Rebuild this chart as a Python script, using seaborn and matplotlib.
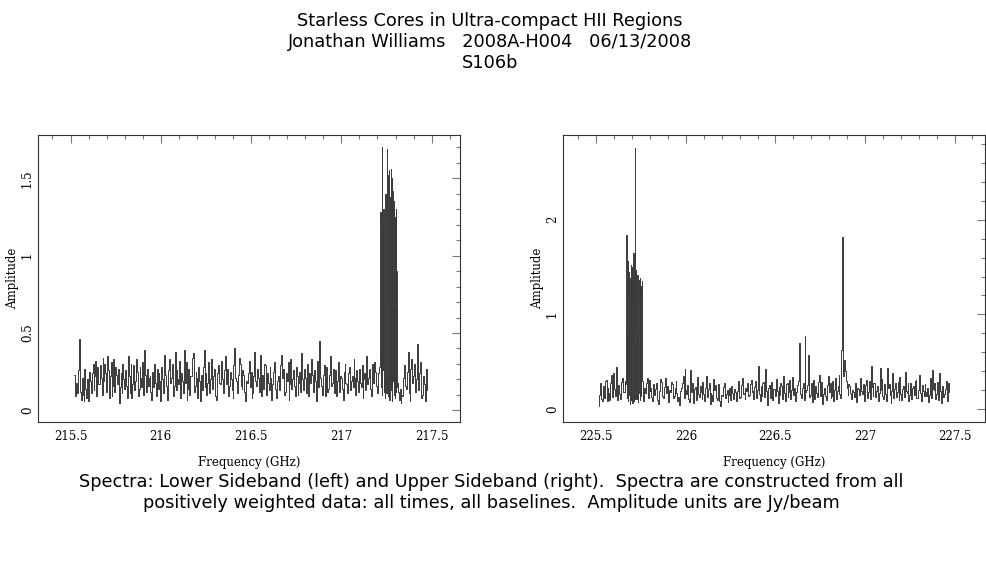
import numpy as np
import pandas as pd
import matplotlib
matplotlib.use("Agg")
import matplotlib.pyplot as plt
from matplotlib.ticker import MultipleLocator
import seaborn as sns

# ---- data (amplitude in Jy/beam) ----
# lower sideband: channels every 0.005 GHz from 215.52 GHz
lsb_start, lsb_step = 215.52, 0.005
lsb_amp = [
    0.23, 0.15, 0.09, 0.18, 0.11, 0.26, 0.46, 0.12, 0.07, 0.21, 0.10, 0.06, 0.27, 0.14,
    0.08, 0.20, 0.06, 0.25, 0.19, 0.11, 0.24, 0.30, 0.13, 0.22, 0.32, 0.09, 0.28, 0.17,
    0.17, 0.29, 0.21, 0.10, 0.34, 0.19, 0.30, 0.24, 0.12, 0.35, 0.26, 0.08, 0.22, 0.31,
    0.09, 0.16, 0.33, 0.12, 0.28, 0.23, 0.17, 0.27, 0.05, 0.15, 0.24, 0.11, 0.30, 0.20,
    0.14, 0.26, 0.16, 0.08, 0.35, 0.22, 0.11, 0.30, 0.08, 0.17, 0.29, 0.13, 0.19, 0.33,
    0.25, 0.09, 0.14, 0.28, 0.21, 0.15, 0.31, 0.10, 0.39, 0.23, 0.12, 0.27, 0.16, 0.21,
    0.22, 0.12, 0.07, 0.25, 0.15, 0.30, 0.18, 0.09, 0.27, 0.14, 0.24, 0.19, 0.06, 0.28,
    0.20, 0.11, 0.36, 0.23, 0.16, 0.07, 0.13, 0.26, 0.33, 0.18, 0.21, 0.30, 0.09, 0.16,
    0.38, 0.13, 0.26, 0.20, 0.17, 0.32, 0.08, 0.24, 0.19, 0.11, 0.39, 0.18, 0.31, 0.07,
    0.14, 0.27, 0.10, 0.22, 0.22, 0.34, 0.37, 0.12, 0.16, 0.25, 0.21, 0.08, 0.28, 0.19,
    0.06, 0.23, 0.13, 0.28, 0.39, 0.15, 0.24, 0.10, 0.18, 0.31, 0.11, 0.20, 0.33, 0.14,
    0.22, 0.27, 0.15, 0.09, 0.07, 0.24, 0.29, 0.18, 0.17, 0.32, 0.20, 0.11, 0.12, 0.26,
    0.35, 0.17, 0.27, 0.09, 0.16, 0.25, 0.20, 0.13, 0.08, 0.29, 0.40, 0.21, 0.19, 0.11,
    0.23, 0.34, 0.30, 0.16, 0.14, 0.26, 0.23, 0.12, 0.06, 0.19, 0.18, 0.24, 0.32, 0.15,
    0.25, 0.08, 0.11, 0.22, 0.38, 0.19, 0.16, 0.27, 0.21, 0.12, 0.36, 0.15, 0.09, 0.23,
    0.14, 0.30, 0.29, 0.10, 0.24, 0.18, 0.13, 0.28, 0.21, 0.07, 0.17, 0.25, 0.31, 0.14,
    0.08, 0.19, 0.22, 0.13, 0.15, 0.29, 0.36, 0.21, 0.27, 0.10, 0.12, 0.24, 0.19, 0.31,
    0.07, 0.17, 0.33, 0.14, 0.20, 0.26, 0.16, 0.09, 0.28, 0.22, 0.10, 0.18, 0.25, 0.12,
    0.37, 0.20, 0.13, 0.27, 0.21, 0.11, 0.30, 0.16, 0.09, 0.24, 0.18, 0.33, 0.23, 0.12,
    0.26, 0.19, 0.06, 0.28, 0.32, 0.15, 0.45, 0.21, 0.16, 0.10, 0.23, 0.29, 0.09, 0.17,
    0.28, 0.12, 0.14, 0.23, 0.35, 0.16, 0.18, 0.27, 0.11, 0.20, 0.26, 0.09, 0.19, 0.31,
    0.12, 0.22, 0.21, 0.14, 0.07, 0.25, 0.30, 0.18, 0.17, 0.11, 0.24, 0.28, 0.13, 0.19,
    0.22, 0.15, 0.33, 0.21, 0.10, 0.26, 0.19, 0.12, 0.27, 0.18, 0.15, 0.29, 0.08, 0.20,
    0.24, 0.13, 0.35, 0.17, 0.21, 0.27, 0.14, 0.09, 0.30, 0.22, 0.18, 0.31, 0.25, 0.16,
    0.11, 0.24, 0.28, 0.20, 0.20, 0.20, 0.20, 0.20, 0.20, 0.20, 0.20, 0.20, 0.20, 0.20,
    0.20, 0.20, 0.20, 0.20, 0.20, 0.20, 0.20, 0.20, 0.18, 0.12, 0.07, 0.14, 0.05, 0.10,
    0.09, 0.21, 0.29, 0.16, 0.14, 0.25, 0.38, 0.11, 0.06, 0.27, 0.33, 0.18, 0.22, 0.30,
    0.12, 0.20, 0.43, 0.13, 0.19, 0.24, 0.31, 0.08, 0.10, 0.22, 0.17, 0.06, 0.27, 0.13,
]
# lower sideband high-resolution chunk (line forest)
lsb_chunk_range = (217.215, 217.309)
lsb_chunk_amp = [
    0.30, 1.28, 0.95, 0.15, 1.05, 0.40, 1.70, 0.22, 0.10, 1.20, 0.85, 0.26, 1.30, 0.12, 0.60, 1.10,
    0.20, 1.25, 0.08, 0.90, 1.40, 0.18, 1.35, 0.11, 1.00, 1.69, 0.24, 0.70, 1.48, 0.09, 1.20, 1.52,
    0.16, 0.55, 1.55, 0.07, 1.38, 0.80, 0.21, 1.56, 0.13, 1.45, 0.30, 1.50, 0.06, 1.10, 1.42, 0.19,
    1.30, 0.65, 0.10, 1.35, 0.23, 1.20, 0.50, 1.25, 0.08, 1.05, 0.17, 1.30, 0.12, 0.90, 0.20, 0.15,
]

# upper sideband: channels every 0.005 GHz from 225.515 GHz
usb_start, usb_step = 225.515, 0.005
usb_amp = [
    0.03, 0.15, 0.27, 0.11, 0.09, 0.24, 0.12, 0.30, 0.31, 0.08, 0.22, 0.17, 0.10, 0.27,
    0.36, 0.13, 0.38, 0.21, 0.14, 0.26, 0.44, 0.10, 0.25, 0.16, 0.11, 0.29, 0.33, 0.18,
    0.18, 0.30, 0.26, 0.20, 0.20, 0.20, 0.20, 0.20, 0.20, 0.20, 0.20, 0.20, 0.20, 0.20,
    0.20, 0.20, 0.20, 0.20, 0.20, 0.20, 0.20, 0.14, 0.09, 0.22, 0.17, 0.28, 0.33, 0.12,
    0.31, 0.19, 0.22, 0.13, 0.08, 0.26, 0.15, 0.21, 0.27, 0.10, 0.05, 0.18, 0.19, 0.32,
    0.29, 0.14, 0.12, 0.23, 0.33, 0.17, 0.24, 0.09, 0.07, 0.20, 0.18, 0.29, 0.26, 0.12,
    0.14, 0.22, 0.30, 0.17, 0.09, 0.13, 0.04, 0.19, 0.22, 0.28, 0.35, 0.12, 0.42, 0.20,
    0.16, 0.25, 0.11, 0.07, 0.41, 0.18, 0.27, 0.14, 0.06, 0.21, 0.23, 0.10, 0.34, 0.16,
    0.13, 0.24, 0.18, 0.11, 0.29, 0.16, 0.08, 0.22, 0.35, 0.13, 0.21, 0.27, 0.05, 0.17,
    0.15, 0.09, 0.32, 0.20, 0.25, 0.12, 0.10, 0.26, 0.19, 0.08, 0.03, 0.15, 0.14, 0.23,
    0.28, 0.12, 0.16, 0.20, 0.07, 0.15, 0.22, 0.10, 0.24, 0.17, 0.11, 0.21, 0.18, 0.14,
    0.09, 0.19, 0.30, 0.12, 0.13, 0.25, 0.33, 0.16, 0.17, 0.11, 0.22, 0.19, 0.28, 0.14,
    0.15, 0.26, 0.31, 0.18, 0.19, 0.11, 0.23, 0.30, 0.12, 0.20, 0.45, 0.16, 0.08, 0.24,
    0.14, 0.27, 0.29, 0.13, 0.42, 0.19, 0.04, 0.22, 0.25, 0.12, 0.17, 0.29, 0.10, 0.21,
    0.21, 0.14, 0.32, 0.19, 0.06, 0.23, 0.15, 0.28, 0.24, 0.11, 0.35, 0.17, 0.09, 0.26,
    0.27, 0.13, 0.18, 0.31, 0.11, 0.20, 0.34, 0.15, 0.22, 0.09, 0.08, 0.18, 0.25, 0.30,
    0.70, 0.16, 0.12, 0.22, 0.28, 0.10, 0.77, 0.18, 0.20, 0.25, 0.57, 0.13, 0.15, 0.27,
    0.07, 0.19, 0.31, 0.11, 0.24, 0.17, 0.13, 0.29, 0.36, 0.14, 0.29, 0.21, 0.05, 0.16,
    0.22, 0.14, 0.10, 0.25, 0.35, 0.18, 0.27, 0.12, 0.14, 0.30, 0.08, 0.20, 0.33, 0.11,
    0.19, 0.24, 0.36, 0.16, 0.12, 0.62, 1.82, 0.35, 0.52, 0.40, 0.30, 0.22, 0.15, 0.26,
    0.24, 0.17, 0.11, 0.20, 0.18, 0.13, 0.28, 0.09, 0.07, 0.22, 0.21, 0.15, 0.33, 0.19,
    0.16, 0.26, 0.09, 0.14, 0.25, 0.31, 0.12, 0.18, 0.30, 0.11, 0.45, 0.23, 0.14, 0.28,
    0.27, 0.13, 0.19, 0.24, 0.08, 0.17, 0.43, 0.20, 0.32, 0.14, 0.11, 0.26, 0.16, 0.09,
    0.43, 0.22, 0.26, 0.15, 0.06, 0.19, 0.38, 0.12, 0.21, 0.28, 0.13, 0.18, 0.29, 0.10,
    0.34, 0.16, 0.10, 0.21, 0.24, 0.13, 0.39, 0.19, 0.17, 0.27, 0.08, 0.15, 0.28, 0.11,
    0.22, 0.24, 0.15, 0.30, 0.31, 0.12, 0.12, 0.20, 0.36, 0.17, 0.09, 0.25, 0.19, 0.14,
    0.26, 0.18, 0.14, 0.22, 0.07, 0.15, 0.33, 0.12, 0.41, 0.21, 0.20, 0.27, 0.11, 0.16,
    0.29, 0.10, 0.38, 0.19, 0.06, 0.24, 0.24, 0.13, 0.16, 0.21, 0.30, 0.09, 0.28, 0.18,
]
usb_chunk_range = (225.670, 225.756)
usb_chunk_amp = [
    1.84, 0.12, 1.35, 0.80, 0.25, 1.56, 0.08, 1.20, 0.45, 1.45, 0.15, 1.10, 0.05, 0.90, 1.38,
    0.22, 1.52, 0.10, 0.70, 1.28, 0.18, 1.50, 0.06, 1.32, 0.95, 0.26, 1.65, 0.14, 0.40, 0.09,
    1.40, 0.60, 2.76, 0.11, 1.25, 0.20, 1.47, 0.85, 0.11, 1.15, 0.28, 1.42, 0.07, 1.00, 1.30,
    0.17, 1.36, 0.50, 0.24, 1.12, 0.10, 1.38, 0.75, 0.21, 1.30, 0.14, 1.20, 0.32, 1.35, 0.30,
]

title_lines = ["Starless Cores in Ultra-compact HII Regions",
               "Jonathan Williams   2008A-H004   06/13/2008",
               "S106b"]
caption_lines = ["Spectra: Lower Sideband (left) and Upper Sideband (right).  Spectra are constructed from all",
                 "positively weighted data: all times, all baselines.  Amplitude units are Jy/beam"]


def build_spectrum(start, step, amp, chunk_range, chunk_amp):
    freq = start + step * np.arange(len(amp))
    amp = np.asarray(amp)
    keep = (freq < chunk_range[0]) | (freq > chunk_range[1])
    cfreq = np.linspace(chunk_range[0], chunk_range[1], len(chunk_amp))
    df = pd.DataFrame({"freq": np.concatenate([freq[keep], cfreq]),
                       "amp": np.concatenate([amp[keep], chunk_amp])})
    return df.sort_values("freq").reset_index(drop=True)


lsb = build_spectrum(lsb_start, lsb_step, lsb_amp, lsb_chunk_range, lsb_chunk_amp)
usb = build_spectrum(usb_start, usb_step, usb_amp, usb_chunk_range, usb_chunk_amp)

sns.set_style("white")
plt.rcParams["font.family"] = ["DejaVu Sans"]
plt.rcParams["text.color"] = "black"
plt.rcParams["axes.labelcolor"] = "black"
plt.rcParams["xtick.labelcolor"] = "black"
plt.rcParams["ytick.labelcolor"] = "black"

fig = plt.figure(figsize=(9.87, 5.67), dpi=100)
ax_l = fig.add_axes([38 / 987, 145 / 567, 422 / 987, 287 / 567])
ax_r = fig.add_axes([563 / 987, 145 / 567, 422 / 987, 287 / 567])

panels = [
    (ax_l, lsb, (215.32, 217.657), (-0.075, 1.779), 0.5, 0.1),
    (ax_r, usb, (225.314, 227.67), (-0.137, 2.896), 1.0, 0.2),
]
for ax, df, xlim, ylim, ymaj, ymin in panels:
    sns.lineplot(data=df, x="freq", y="amp", ax=ax, estimator=None,
                 drawstyle="steps-mid", color="#3a3a3a", lw=0.7)
    ax.set_xlim(*xlim)
    ax.set_ylim(*ylim)
    ax.xaxis.set_major_locator(MultipleLocator(0.5))
    ax.xaxis.set_minor_locator(MultipleLocator(0.1))
    ax.yaxis.set_major_locator(MultipleLocator(ymaj))
    ax.yaxis.set_minor_locator(MultipleLocator(ymin))
    ax.xaxis.set_major_formatter(plt.FuncFormatter(lambda v, p: f"{v:g}"))
    ax.yaxis.set_major_formatter(plt.FuncFormatter(lambda v, p: f"{v:g}"))
    ax.tick_params(which="both", direction="in", top=True, right=True,
                   color="#777777", width=0.8)
    ax.tick_params(which="major", axis="x", length=6, labelsize=8.5, pad=6)
    ax.tick_params(which="major", axis="y", length=6, labelsize=8.5, pad=3)
    ax.tick_params(which="minor", length=3)
    for lab in ax.get_xticklabels() + ax.get_yticklabels():
        lab.set_family("DejaVu Serif")
    for lab in ax.get_yticklabels():
        lab.set_rotation(90)
        lab.set_va("center")
    ax.set_xlabel("Frequency (GHz)", family="DejaVu Serif", fontsize=8.5, labelpad=9)
    ax.set_ylabel("Amplitude", family="DejaVu Serif", fontsize=8.5, labelpad=1)
    for sp in ax.spines.values():
        sp.set_color("#333333")
        sp.set_linewidth(0.8)

for i, line in enumerate(title_lines):
    fig.text(490 / 987, 1 - (21 + 21 * i) / 567, line, ha="center", va="center", fontsize=12.8)
for i, line in enumerate(caption_lines):
    fig.text(491 / 987, 1 - (482 + 21 * i) / 567, line, ha="center", va="center", fontsize=12.8)

fig.savefig("out.png", dpi=100)
